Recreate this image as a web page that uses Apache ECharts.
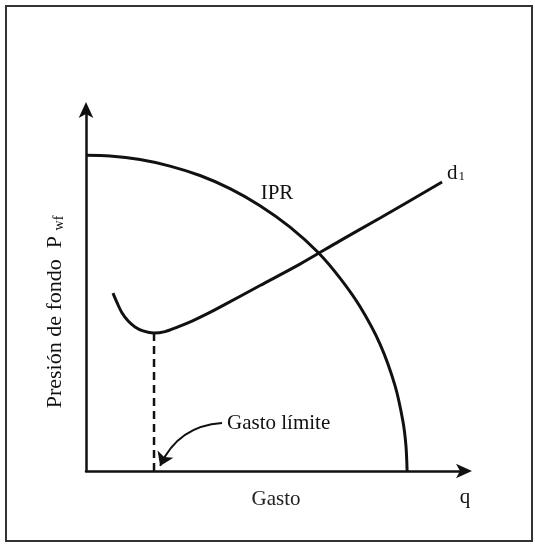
<!DOCTYPE html>
<html>
<head>
<meta charset="utf-8">
<script src="https://cdn.jsdelivr.net/npm/echarts@6/dist/echarts.min.js"></script>
<style>html,body{margin:0;padding:0;background:#fff}#c{width:535px;height:544px}</style>
</head>
<body>
<div id="c"></div>
<script>
// IPR curve points [q, pwf] (arbitrary units)
const iprQ   = [0, 6.3, 14.2, 22.1, 30.0, 37.9, 45.8, 53.7, 61.1, 66.8, 72.1, 77.4, 81.3, 83.4, 84.2, 84.5];
const iprP   = [87.0, 86.8, 85.8, 84.0, 81.4, 77.8, 73.1, 67.2, 60.2, 53.2, 45.3, 34.9, 23.6, 13.7, 6.9, 0];
// d1 curve points
const d1Q    = [7.1, 8.2, 9.5, 11.1, 12.9, 15.0, 17.9, 20.8, 24.2, 27.9, 32.1, 36.6, 45.8, 56.3, 66.8, 77.4, 93.7];
const d1P    = [49.0, 46.3, 43.5, 41.3, 39.7, 38.6, 38.0, 38.4, 39.7, 41.3, 43.4, 45.9, 51.1, 57.0, 63.4, 69.7, 79.6];
// Gasto límite (minimum of d1)
const limitQ = 17.9;
const limitP = 38.0;
// annotation arrow start / end
const arrowFrom = [35.8, 13.2];
const arrowTo   = [19.5, 1.4];

const zip = (a, b) => a.map((v, i) => [v, b[i]]);
const FONT = '"Liberation Serif", "DejaVu Serif", serif';

const chart = echarts.init(document.getElementById('c'), null, {renderer: 'canvas'});
chart.setOption({
  animation: false,
  backgroundColor: '#fff',
  grid: {left: 86, right: 69, top: 108, bottom: 73},
  xAxis: {
    type: 'value', min: 0, max: 100,
    axisLine: {show: true, symbol: ['none', 'arrow'], symbolSize: [11, 16], symbolOffset: [0, 6],
      lineStyle: {color: '#111', width: 2.5}},
    axisTick: {show: false}, axisLabel: {show: false}, splitLine: {show: false},
    name: 'Gasto', nameLocation: 'middle', nameGap: 18,
    nameTextStyle: {fontFamily: FONT, fontSize: 21, color: '#222'}
  },
  yAxis: {
    type: 'value', min: 0, max: 100,
    axisLine: {show: true, symbol: ['none', 'arrow'], symbolSize: [11, 16], symbolOffset: [0, 6],
      lineStyle: {color: '#111', width: 2.5}},
    axisTick: {show: false}, axisLabel: {show: false}, splitLine: {show: false}
  },
  series: [
    {
      name: 'IPR', type: 'line', data: zip(iprQ, iprP), smooth: 0.3,
      showSymbol: false, lineStyle: {color: '#111', width: 3}
    },
    {
      name: 'd1', type: 'line', data: zip(d1Q, d1P), smooth: 0.3,
      showSymbol: false, lineStyle: {color: '#111', width: 3}
    },
    {
      name: 'limite', type: 'line', data: [[limitQ, 0], [limitQ, limitP]],
      showSymbol: false, lineStyle: {color: '#111', width: 2.5, type: [8, 5]}
    },
    {
      name: 'arrow', type: 'lines', coordinateSystem: 'cartesian2d',
      symbol: ['none', 'arrow'], symbolSize: 13,
      lineStyle: {color: '#111', width: 2, curveness: -0.3, opacity: 1},
      data: [{coords: [arrowFrom, arrowTo]}]
    }
  ],
  graphic: [
    {type: 'rect', shape: {x: 6, y: 6, width: 526, height: 535},
      style: {fill: null, stroke: '#333', lineWidth: 2}, silent: true},
    {type: 'text', x: 277, y: 193, style: {text: 'IPR', font: '21px ' + FONT, fill: '#111',
      align: 'center', verticalAlign: 'middle'}},
    {type: 'text', x: 447, y: 173, style: {
      text: 'd{s|1}', font: '21px ' + FONT, fill: '#111', align: 'left', verticalAlign: 'middle',
      rich: {s: {fontFamily: FONT, fontSize: 13, fill: '#111', verticalAlign: 'bottom', padding: [8, 0, 0, 1]}}}},
    {type: 'text', x: 227, y: 423, style: {text: 'Gasto límite', font: '21px ' + FONT, fill: '#111',
      align: 'left', verticalAlign: 'middle'}},
    {type: 'text', x: 465, y: 497, style: {text: 'q', font: '21px ' + FONT, fill: '#111',
      align: 'center', verticalAlign: 'middle'}},
    {type: 'text', x: 55, y: 312, rotation: Math.PI / 2, style: {
      text: 'Presión de fondo  P {s|wf}', font: '22px ' + FONT, fill: '#111',
      align: 'center', verticalAlign: 'middle',
      rich: {s: {fontFamily: FONT, fontSize: 14, fill: '#111', verticalAlign: 'bottom', padding: [8, 0, 0, 0]}}}}
  ]
});
</script>
</body>
</html>
